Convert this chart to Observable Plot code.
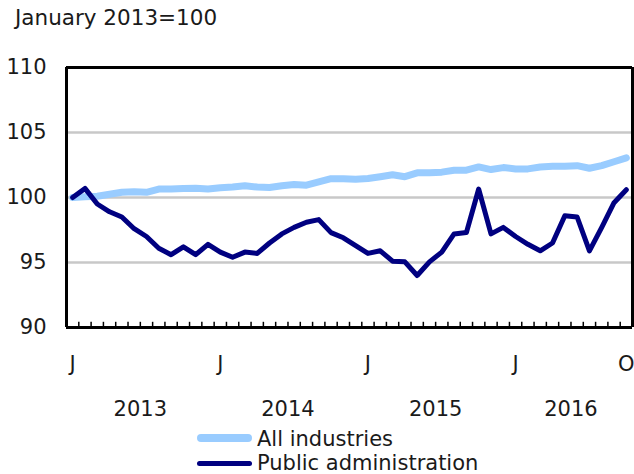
<!DOCTYPE html>
<html><head><meta charset="utf-8">
<script src="https://cdn.jsdelivr.net/npm/d3@7"></script>
<script src="https://cdn.jsdelivr.net/npm/@observablehq/plot@0.6"></script>
<style>
body{margin:0;background:#fff;font-family:"DejaVu Sans",sans-serif;color:#1a1a1a;}
#wrap{position:relative;width:634px;height:474px;overflow:hidden;}
#chart{position:absolute;left:0;top:0;}
.txt{position:absolute;font-size:21px;line-height:24px;white-space:nowrap;}
.sw{position:absolute;}
</style></head>
<body>
<div id="wrap">
  <div id="chart"></div>
  <div class="txt" id="title" style="left:15px;top:6px;font-size:21.5px;">January 2013=100</div>
  <div class="sw" style="left:197px;top:434px;width:55px;height:8px;border-radius:4px;background:#99ccff;"></div>
  <div class="txt" style="left:257px;top:427px;">All industries</div>
  <div class="sw" style="left:197px;top:461px;width:55px;height:5px;border-radius:2.5px;background:#000080;"></div>
  <div class="txt" style="left:257px;top:451px;">Public administration</div>
</div>
<script>
const allIndustries = [100.0,100.05,100.1,100.25,100.4,100.45,100.4,100.65,100.65,100.7,100.72,100.65,100.75,100.8,100.9,100.8,100.77,100.9,101.0,100.95,101.2,101.45,101.45,101.4,101.46,101.6,101.75,101.6,101.9,101.9,101.95,102.1,102.1,102.35,102.15,102.3,102.2,102.2,102.35,102.4,102.4,102.45,102.25,102.45,102.75,103.05];
const publicAdmin = [100.0,100.7,99.5,98.9,98.5,97.6,97.0,96.1,95.6,96.2,95.6,96.4,95.8,95.4,95.8,95.7,96.5,97.2,97.7,98.1,98.3,97.3,96.9,96.3,95.7,95.9,95.1,95.05,94.0,95.05,95.8,97.2,97.3,100.65,97.2,97.7,97.0,96.4,95.9,96.5,98.6,98.5,95.9,97.7,99.6,100.6];
const startYear = 2013;
const tickIdx = [0,12,24,36,45];
const tickLabels = ["J","J","J","J","O"];
const yTicks = [90,95,100,105,110];
const gridValues = [95,100,105];

const n = allIndustries.length;
const idx = d3.range(n);
const boundaries = d3.range(n + 1).map(k => k - 0.5);
const yearGroups = d3.groups(idx, i => startYear + Math.floor(i / 12))
  .map(([yr, arr]) => ({year: String(yr), center: d3.mean(arr)}));

const chart = Plot.plot({
  width: 634, height: 474,
  marginLeft: 66, marginRight: 2, marginTop: 67, marginBottom: 147,
  style: {fontFamily: "DejaVu Sans", fontSize: "21px", color: "#1a1a1a", background: "transparent", overflow: "visible"},
  x: {domain: [-0.5, n - 0.5], label: null},
  y: {domain: [90, 110], label: null},
  marks: [
    Plot.ruleY(gridValues, {stroke: "#c8c8c8", strokeWidth: 2.5}),
    Plot.ruleX(boundaries, {x: d => d, y1: 90, y2: 90.4, stroke: "#000", strokeWidth: 1.5}),
    Plot.line(idx, {x: i => i, y: i => allIndustries[i], stroke: "#99ccff", strokeWidth: 7}),
    Plot.line(idx, {x: i => i, y: i => publicAdmin[i], stroke: "#000080", strokeWidth: 5}),
    Plot.ruleX([-0.5, n - 0.5], {stroke: "#000", strokeWidth: 3}),
    Plot.ruleY([90, 110], {stroke: "#000", strokeWidth: 3}),
    Plot.axisY({ticks: yTicks, tickSize: 0, tickPadding: 20, fontSize: 21, label: null}),
    Plot.axisX({ticks: tickIdx, tickFormat: d => tickLabels[tickIdx.indexOf(d)], tickSize: 0, tickPadding: 29, fontSize: 21, label: null}),
    Plot.text(yearGroups, {x: "center", text: "year", frameAnchor: "bottom", dy: 88, lineAnchor: "bottom", fontSize: 21, fill: "#1a1a1a"})
  ]
});
document.getElementById("chart").appendChild(chart);
</script>
</body></html>
